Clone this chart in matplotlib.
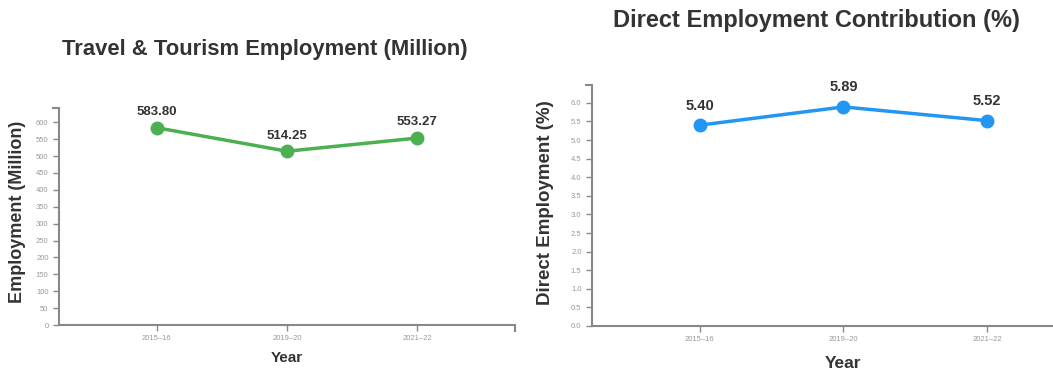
import matplotlib.pyplot as plt

# Dados
anos = ["2015–16", "2019–20", "2021–22"]
emprego = [583.80, 514.25, 553.27]
contribuicao = [5.40, 5.89, 5.52]

W, H = 1053, 376
plt.rcParams['font.family'] = ['Liberation Sans', 'DejaVu Sans']

fig = plt.figure(figsize=(W / 100, H / 100), dpi=100)


def eixo(x0, x1, y0, y1):
    # caixa em pixels (y a partir do topo)
    return fig.add_axes([x0 / W, 1 - y1 / H, (x1 - x0) / W, (y1 - y0) / H])


def estilo(ax, ymax, yticks, fmt):
    ax.set_xlim(-0.75, 2.75)
    ax.set_ylim(0, ymax)
    ax.set_xticks(range(len(anos)))
    ax.set_xticklabels(anos)
    ax.set_yticks(yticks)
    ax.set_yticklabels([fmt.format(v) for v in yticks])
    # ticks externos nas pontas (estilo d3)
    ax.set_xticks([2.75], minor=True)
    ax.set_yticks([ymax], minor=True)
    for s in ["top", "right"]:
        ax.spines[s].set_visible(False)
    for s in ["left", "bottom"]:
        ax.spines[s].set_color("#888888")
        ax.spines[s].set_linewidth(1.5)
    ax.tick_params(colors="#888888", labelsize=5.5, length=4, width=1,
                   labelcolor="#999999")
    ax.tick_params(which="minor", colors="#888888", length=5, width=1.5)
    ax.patch.set_alpha(0)


cor_txt = "#333333"

# Grafico 1
ax1 = eixo(59, 515, 108, 325)
ax1.plot(range(3), emprego, color="#4CAF50", lw=2.5, marker="o", ms=9, zorder=3)
estilo(ax1, max(emprego) * 1.1, list(range(0, 601, 50)), "{:.0f}")
for i, v in enumerate(emprego):
    ax1.annotate(f"{v:.2f}", (i, v), xytext=(0, 7), textcoords="offset points",
                 ha="center", va="bottom", fontsize=9.5, fontweight="bold", color=cor_txt)
fig.text(265 / W, 1 - 49 / H, "Travel & Tourism Employment (Million)", ha="center",
         va="center", fontsize=15.8, fontweight="bold", color=cor_txt)
fig.text(18 / W, 1 - 212 / H, "Employment (Million)", rotation=90, ha="center",
         va="center", fontsize=13, fontweight="bold", color=cor_txt)
fig.text(287 / W, 1 - 358 / H, "Year", ha="center", va="center",
         fontsize=11, fontweight="bold", color=cor_txt)

# Grafico 2
ax2 = eixo(592, 1095, 85, 326)
ax2.plot(range(3), contribuicao, color="#2196F3", lw=2.5, marker="o", ms=9, zorder=3)
estilo(ax2, max(contribuicao) * 1.1, [i * 0.5 for i in range(13)], "{:.1f}")
for i, v in enumerate(contribuicao):
    ax2.annotate(f"{v:.2f}", (i, v), xytext=(0, 9), textcoords="offset points",
                 ha="center", va="bottom", fontsize=10.5, fontweight="bold", color=cor_txt)
fig.text(816 / W, 1 - 21 / H, "Direct Employment Contribution (%)", ha="center",
         va="center", fontsize=17, fontweight="bold", color=cor_txt)
fig.text(545 / W, 1 - 203 / H, "Direct Employment (%)", rotation=90, ha="center",
         va="center", fontsize=13.5, fontweight="bold", color=cor_txt)
fig.text(843 / W, 1 - 363 / H, "Year", ha="center", va="center",
         fontsize=12.5, fontweight="bold", color=cor_txt)

fig.savefig("out.png", dpi=100)
